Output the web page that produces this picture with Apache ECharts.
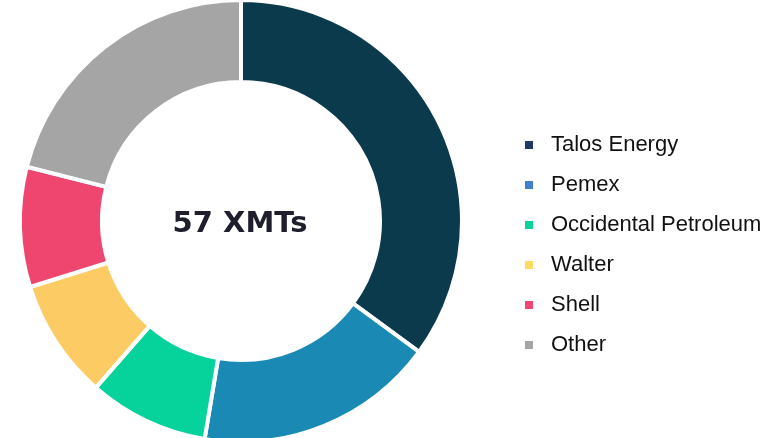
<!DOCTYPE html>
<html>
<head>
<meta charset="utf-8">
<script src="https://cdn.jsdelivr.net/npm/echarts@6/dist/echarts.min.js"></script>
<style>
  html, body { margin: 0; padding: 0; background: #fff; }
  #chart1 { width: 769px; height: 438px; }
</style>
</head>
<body>
<div id="chart1"></div>
<script>
// 数据
var companies = ['Talos Energy', 'Pemex', 'Occidental Petroleum', 'Walter', 'Shell', 'Other'];
var xmtCounts = [20, 10, 5, 5, 5, 12];
var sliceColors = ['#0a3a4c', '#1a89b4', '#06d39c', '#fdcb63', '#ef4670', '#a5a5a5'];
var legendColors = ['#1f3864', '#3f7fcf', '#06d39c', '#ffd966', '#ef4670', '#a5a5a5'];
var centerLabel = '57 XMTs';

document.addEventListener('DOMContentLoaded', function () {
    var myChart = echarts.init(document.getElementById('chart1'));

    var option = {
      animation: false,
      legend: {
        orient: 'vertical',
        left: 518,
        top: 129,
        icon: 'rect',
        itemWidth: 10,
        itemHeight: 10,
        itemGap: 18,
        textStyle: {
          fontFamily: 'Liberation Sans',
          fontSize: 22,
          color: '#111',
          padding: [0, 0, 0, 12]
        },
        data: companies.map(function (name, i) {
          return { name: name, itemStyle: { color: legendColors[i] } };
        })
      },
      graphic: [{
        type: 'text',
        x: 240,
        y: 224,
        style: {
          text: centerLabel,
          fontFamily: 'DejaVu Sans',
          fontWeight: 'bold',
          fontSize: 29,
          fill: '#1e1e2c',
          align: 'center',
          verticalAlign: 'middle'
        }
      }],
      series: [{
        type: 'pie',
        center: [241, 221],
        radius: [139, 221],
        startAngle: 90,
        clockwise: true,
        label: { show: false },
        labelLine: { show: false },
        itemStyle: { borderColor: '#fff', borderWidth: 4 },
        data: companies.map(function (name, i) {
          return { name: name, value: xmtCounts[i], itemStyle: { color: sliceColors[i] } };
        })
      }]
    };

    myChart.setOption(option);
});
</script>
</body>
</html>
